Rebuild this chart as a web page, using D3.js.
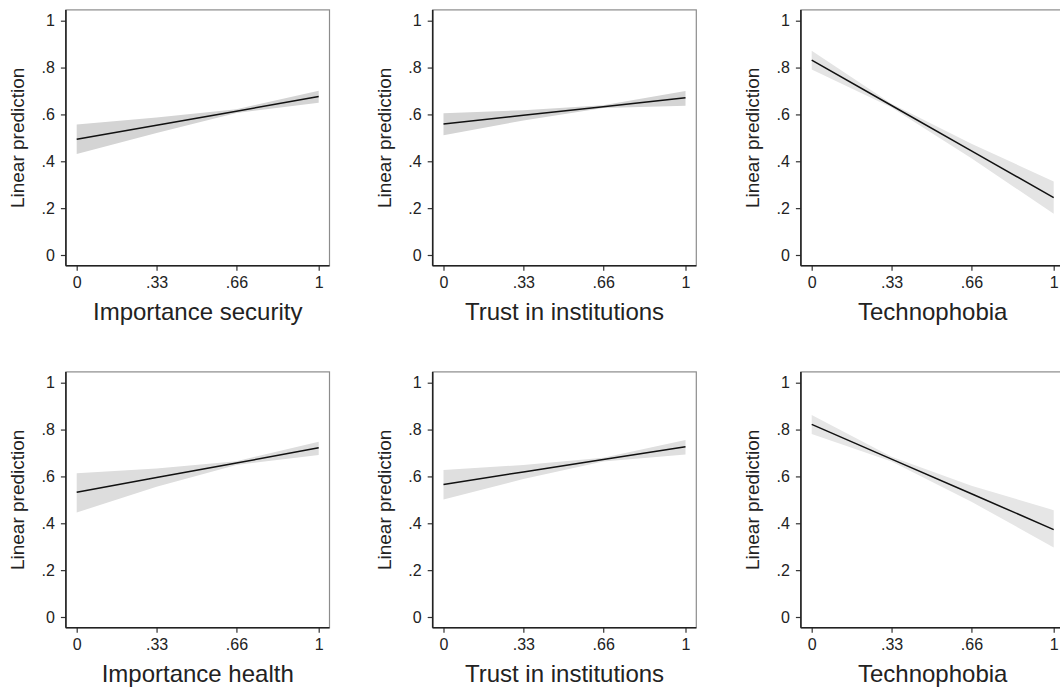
<!DOCTYPE html>
<html>
<head>
<meta charset="utf-8">
<script src="https://cdn.jsdelivr.net/npm/d3@7"></script>
<style>
  body { margin: 0; background: #fff; overflow: hidden; }
  svg { display: block; font-family: "Liberation Sans", Arial, sans-serif; }
</style>
</head>
<body>
<svg id="chart" width="1060" height="687"></svg>
<script>
// margins at x = 0, .33, .66, 1
const xValues = [0, 0.33, 0.66, 1];
const xTickLabels = ['0', '.33', '.66', '1'];
const yTicks = [0, 0.2, 0.4, 0.6, 0.8, 1];
const yTickLabels = ['0', '.2', '.4', '.6', '.8', '1'];

const xTitles = [
    'Importance security', 'Trust in institutions', 'Technophobia',
    'Importance health', 'Trust in institutions', 'Technophobia'
];

const estimates = [
    [0.494, 0.554, 0.614, 0.676],
    [0.559, 0.596, 0.633, 0.671],
    [0.832, 0.638, 0.444, 0.245],
    [0.532, 0.595, 0.657, 0.722],
    [0.566, 0.619, 0.672, 0.727],
    [0.822, 0.674, 0.526, 0.373]
];

const lower = [
    [0.431, 0.521, 0.606, 0.650],
    [0.511, 0.574, 0.627, 0.637],
    [0.792, 0.630, 0.413, 0.176],
    [0.446, 0.556, 0.649, 0.691],
    [0.502, 0.589, 0.664, 0.694],
    [0.781, 0.664, 0.492, 0.297]
];

const upper = [
    [0.557, 0.587, 0.622, 0.701],
    [0.605, 0.618, 0.639, 0.700],
    [0.872, 0.646, 0.475, 0.314],
    [0.613, 0.634, 0.665, 0.748],
    [0.627, 0.649, 0.680, 0.755],
    [0.862, 0.684, 0.560, 0.456]
];

const bandColors = ['#d4d4d4', '#d4d4d4', '#e4e4e4', '#dddddd', '#dfdfdf', '#e6e6e6'];

const colX = [76.7, 443.5, 811.7];
const rowY = [20.7, 382.7];
const plotW = 242;
const plotH = 234.3;
const pad = 10.8;
const font = '"Liberation Sans", Arial, sans-serif';

const svg = d3.select('#chart');

xTitles.forEach((title, i) => {
    const col = i % 3;
    const row = Math.floor(i / 3);
    const g = svg.append('g')
        .attr('transform', `translate(${colX[col]},${rowY[row]})`);

    const x = d3.scaleLinear().domain([0, 1]).range([0, plotW]);
    const y = d3.scaleLinear().domain([0, 1]).range([plotH, 0]);

    // plot region outline
    g.append('rect')
        .attr('x', -pad)
        .attr('y', -pad)
        .attr('width', plotW + 2 * pad)
        .attr('height', plotH + 2 * pad)
        .attr('fill', 'none')
        .attr('stroke', '#8c8c8c')
        .attr('stroke-width', 1.2);

    const pts = xValues.map((v, k) => ({ x: v, est: estimates[i][k], lo: lower[i][k], hi: upper[i][k] }));

    // confidence band
    g.append('path')
        .datum(pts)
        .attr('fill', bandColors[i])
        .attr('d', d3.area()
            .x(d => x(d.x))
            .y0(d => y(d.lo))
            .y1(d => y(d.hi)));

    // prediction line
    g.append('path')
        .datum(pts)
        .attr('fill', 'none')
        .attr('stroke', '#111')
        .attr('stroke-width', 1.5)
        .attr('d', d3.line()
            .x(d => x(d.x))
            .y(d => y(d.est)));

    // y axis
    const yAxis = g.append('g')
        .attr('transform', `translate(${-pad},0)`)
        .call(d3.axisLeft(y)
            .tickValues(yTicks)
            .tickFormat((d, k) => yTickLabels[k])
            .tickSize(5)
            .tickPadding(6));
    yAxis.attr('font-size', 16).attr('font-family', font);
    yAxis.select('.domain').remove();
    yAxis.selectAll('.tick line').attr('stroke', '#333').attr('stroke-width', 1.2);
    yAxis.selectAll('.tick text').attr('fill', '#222');
    g.append('line')
        .attr('x1', -pad).attr('x2', -pad)
        .attr('y1', -pad).attr('y2', plotH + pad)
        .attr('stroke', '#222')
        .attr('stroke-width', 1.6);

    // x axis
    const xAxis = g.append('g')
        .attr('transform', `translate(0,${plotH + pad})`)
        .call(d3.axisBottom(x)
            .tickValues(xValues)
            .tickFormat((d, k) => xTickLabels[k])
            .tickSize(5)
            .tickPadding(6));
    xAxis.attr('font-size', 16).attr('font-family', font);
    xAxis.select('.domain').remove();
    xAxis.selectAll('.tick line').attr('stroke', '#333').attr('stroke-width', 1.2);
    xAxis.selectAll('.tick text').attr('fill', '#222');
    g.append('line')
        .attr('x1', -pad).attr('x2', plotW + pad)
        .attr('y1', plotH + pad).attr('y2', plotH + pad)
        .attr('stroke', '#222')
        .attr('stroke-width', 1.6);

    // titles
    g.append('text')
        .attr('x', plotW / 2)
        .attr('y', plotH + pad + 54)
        .attr('text-anchor', 'middle')
        .attr('fill', '#222')
        .style('font-size', '24px')
        .text(title);

    g.append('text')
        .attr('transform', `translate(${-colX[0] + 24},${plotH / 2}) rotate(-90)`)
        .attr('text-anchor', 'middle')
        .attr('fill', '#222')
        .style('font-size', '19px')
        .text('Linear prediction');
});
</script>
</body>
</html>
